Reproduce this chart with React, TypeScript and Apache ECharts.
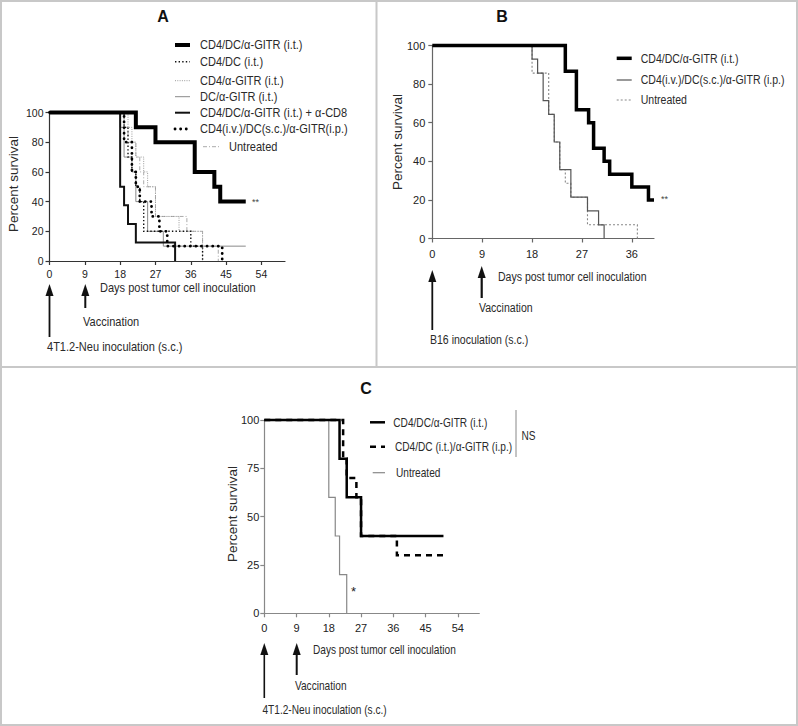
import React, { useEffect, useRef } from "react";
import * as echarts from "echarts";

const FONT = "'Liberation Sans', Arial, Helvetica, sans-serif";

// ---------- Data: survival events [day, percent after event]; end = last follow-up day ----------
// Panel A (4T1.2-Neu)
const aThickEvents = [[22, 90], [27, 80], [37, 60], [42, 50], [43.5, 40]];
const aThickEnd = 50;
const aCD4DCEvents = [[19, 90], [20, 70], [21, 60], [22, 50], [23, 40], [24, 20], [36, 10], [39, 0]];
const aCD4GitrEvents = [[20, 90], [21, 80], [22, 70], [24, 60], [25, 50], [27, 30], [33, 20], [39, 0]];
const aDCGitrEvents = [[18, 90], [19, 70], [21, 60], [22, 40], [25, 20], [29, 10]];
const aDCGitrEnd = 50;
const aCD8Events = [[18, 50], [19, 37.5], [20, 25], [22, 12.5], [32, 0]];
const aIvEvents = [[19, 80], [21, 60], [22, 50], [23, 40], [26, 30], [28, 20], [30, 10], [44, 0]];
const aUntreatedEvents = [[19, 90], [20, 80], [22, 70], [23, 60], [24, 50], [27, 30], [35, 20], [39, 10], [43, 0]];

// Panel B (B16)
const bThickEvents = [[24, 86.7], [26, 66.7], [28.2, 60], [29.1, 46.7], [31, 40], [32, 33.3], [36, 26.7], [39, 20]];
const bThickEnd = 40;
const bIvEvents = [[18, 92.9], [19, 85.7], [20, 71.4], [21, 64.3], [22, 50], [23, 35.7], [25, 21.4], [28, 14.3], [30, 7.1], [31, 0]];
const bUntreatedEvents = [[18, 85.7], [21, 64.3], [22, 50], [23, 35.7], [24, 28.6], [25, 21.4], [28, 7.1], [37, 0]];

// Panel C (4T1.2-Neu, route)
const cThickEvents = [[21, 80], [23, 60], [27, 40]];
const cThickEnd = 50;
const cDashedEvents = [[22, 80], [23, 70], [25.7, 60], [27, 40], [37, 30]];
const cDashedEnd = 50;
const cUntreatedEvents = [[18, 60], [19.8, 40], [21, 20], [23, 0]];

const xTicks = [0, 9, 18, 27, 36, 45, 54];
const xTicksB = [0, 9, 18, 27, 36];

const legendA = [
  "CD4/DC/\u03b1-GITR (i.t.)",
  "CD4/DC (i.t.)",
  "CD4/\u03b1-GITR (i.t.)",
  "DC/\u03b1-GITR (i.t.)",
  "CD4/DC/\u03b1-GITR (i.t.) + \u03b1-CD8",
  "CD4(i.v.)/DC(s.c.)/\u03b1-GITR(i.p.)",
  "Untreated",
];
const legendB = ["CD4/DC/\u03b1-GITR (i.t.)", "CD4(i.v.)/DC(s.c.)/\u03b1-GITR (i.p.)", "Untreated"];
const legendC = ["CD4/DC/\u03b1-GITR (i.t.)", "CD4/DC (i.t.)/\u03b1-GITR (i.p.)", "Untreated"];

function km(events: number[][], end: number | null): number[][] {
  const pts: number[][] = [[0, 100]];
  let cur = 100;
  for (const [d, p] of events) {
    pts.push([d, cur]);
    pts.push([d, p]);
    cur = p;
  }
  if (end !== null) pts.push([end, cur]);
  return pts;
}

function T(x: number, y: number, text: string, o: any = {}) {
  return {
    type: "text",
    x,
    y,
    scaleX: o.sx ?? 1,
    rotation: o.rot ?? 0,
    silent: true,
    style: {
      text,
      fontSize: o.fs ?? 11,
      fontFamily: FONT,
      fontWeight: o.fw ?? "normal",
      fill: o.c ?? "#2a2a2a",
      align: o.al ?? "left",
      verticalAlign: "middle",
    },
  };
}

function L(x1: number, y1: number, x2: number, y2: number, stroke: string, lineWidth: number, dash?: number[], cap?: string) {
  return {
    type: "line",
    silent: true,
    shape: { x1, y1, x2, y2 },
    style: { stroke, lineWidth, lineDash: dash, lineCap: cap ?? "butt" },
  };
}

function arrow(x: number, tip: number, end: number, w: number) {
  return [
    L(x, tip + 8, x, end, "#111", w),
    {
      type: "polygon",
      silent: true,
      shape: { points: [[x, tip], [x - 4, tip + 12], [x + 4, tip + 12]] },
      style: { fill: "#111" },
    },
  ];
}

function xAxisCfg(gridIndex: number, max: number, ticks: number[], color: string, fs: number, margin: number) {
  return {
    type: "value",
    gridIndex,
    min: 0,
    max,
    axisLine: { show: true, onZero: false, lineStyle: { color, width: 1.2 } },
    axisTick: { show: true, length: 4, customValues: ticks, lineStyle: { color, width: 1.2 } },
    axisLabel: { customValues: ticks, color: "#222", fontSize: fs, fontFamily: FONT, margin },
    splitLine: { show: false },
  };
}

function yAxisCfg(gridIndex: number, interval: number, color: string, fs: number, margin: number) {
  return {
    type: "value",
    gridIndex,
    min: 0,
    max: 100,
    interval,
    axisLine: { show: true, onZero: false, lineStyle: { color, width: 1.2 } },
    axisTick: { show: true, length: 4, lineStyle: { color, width: 1.2 } },
    axisLabel: { color: "#222", fontSize: fs, fontFamily: FONT, margin },
    splitLine: { show: false },
  };
}

function S(name: string, idx: number, data: number[][], ls: any, z = 2) {
  return {
    name,
    type: "line",
    xAxisIndex: idx,
    yAxisIndex: idx,
    data,
    symbol: "none",
    showSymbol: false,
    clip: false,
    z,
    lineStyle: { join: "miter", ...ls },
  };
}

// line styles
const stA = [
  { color: "#000", width: 4 },
  { color: "#111", width: 1.4, type: [1.4, 2.2] },
  { color: "#9a9a9a", width: 1, type: [1, 1.3] },
  { color: "#8a8a8a", width: 1 },
  { color: "#111", width: 2 },
  { color: "#000", width: 2.8, type: [0.1, 5.5], cap: "round" },
  { color: "#aaa", width: 1, type: [4, 2, 1, 2] },
];
const stB = [
  { color: "#000", width: 3.5 },
  { color: "#555", width: 1.2 },
  { color: "#888", width: 1.1, type: [2, 2] },
];
const stC = [
  { color: "#000", width: 2.5 },
  { color: "#000", width: 2.5, type: [6, 5] },
  { color: "#888", width: 1.2 },
];

export default function App() {
  const ref = useRef<HTMLDivElement>(null);
  useEffect(() => {
    if (!ref.current) return;
    const chart = echarts.init(ref.current, undefined, { renderer: "svg" });

    const series = [
      S(legendA[6], 0, km(aUntreatedEvents, null), stA[6]),
      S(legendA[2], 0, km(aCD4GitrEvents, null), stA[2]),
      S(legendA[3], 0, km(aDCGitrEvents, aDCGitrEnd), stA[3]),
      S(legendA[1], 0, km(aCD4DCEvents, null), stA[1], 3),
      S(legendA[4], 0, km(aCD8Events, null), stA[4], 3),
      S(legendA[5], 0, km(aIvEvents, null), stA[5], 4),
      S(legendA[0], 0, km(aThickEvents, aThickEnd), stA[0], 5),

      S("B " + legendB[2], 1, km(bUntreatedEvents, null), stB[2]),
      S("B " + legendB[1], 1, km(bIvEvents, null), stB[1], 3),
      S("B " + legendB[0], 1, km(bThickEvents, bThickEnd), stB[0], 5),

      S("C " + legendC[2], 2, km(cUntreatedEvents, null), stC[2]),
      S("C " + legendC[1], 2, km(cDashedEvents, cDashedEnd), stC[1], 3),
      S("C " + legendC[0], 2, km(cThickEvents, cThickEnd), stC[0], 4),
    ];

    const border = "#c8c8c8";
    const elements: any[] = [
      { type: "rect", silent: true, shape: { x: 1, y: 1, width: 796, height: 724 }, style: { fill: "none", stroke: border, lineWidth: 2 } },
      L(376.5, 1, 376.5, 367, border, 2),
      L(1, 367, 797, 367, border, 2),

      // Titles
      T(163, 16, "A", { fs: 16, fw: "bold", c: "#111", al: "center" }),
      T(502, 16, "B", { fs: 16, fw: "bold", c: "#111", al: "center" }),
      T(366, 388, "C", { fs: 16, fw: "bold", c: "#111", al: "center" }),

      // Axis titles
      T(13, 184, "Percent survival", { fs: 13.5, rot: Math.PI / 2, al: "center" }),
      T(100, 288, "Days post tumor cell inoculation", { fs: 12, sx: 0.92 }),
      T(397, 142, "Percent survival", { fs: 13.5, rot: Math.PI / 2, al: "center" }),
      T(498, 277, "Days post tumor cell inoculation", { fs: 13.5, sx: 0.78 }),
      T(232, 514, "Percent survival", { fs: 13.5, rot: Math.PI / 2, al: "center" }),
      T(313, 650, "Days post tumor cell inoculation", { fs: 12.5, sx: 0.81 }),

      // Significance
      T(252, 202, "**", { fs: 9, c: "#444" }),
      T(661, 199, "**", { fs: 9, c: "#444" }),
      T(351, 591, "*", { fs: 13, c: "#222" }),

      // Arrows & annotations A
      ...arrow(49.5, 284, 337, 1.8),
      ...arrow(85.3, 284, 308, 2),
      T(83, 322, "Vaccination", { fs: 12, sx: 0.92 }),
      T(47, 347, "4T1.2-Neu inoculation (s.c.)", { fs: 12, sx: 0.92 }),

      // Arrows & annotations B
      ...arrow(432.3, 270, 330, 1.8),
      ...arrow(481.7, 266, 298, 2.2),
      T(479, 308, "Vaccination", { fs: 13.5, sx: 0.78 }),
      T(430, 340, "B16 inoculation (s.c.)", { fs: 13.5, sx: 0.78 }),

      // Arrows & annotations C
      ...arrow(264.3, 643, 698, 1.6),
      ...arrow(296.7, 643, 675, 2),
      T(295, 686, "Vaccination", { fs: 12.5, sx: 0.81 }),
      T(262.5, 710, "4T1.2-Neu inoculation (s.c.)", { fs: 12.5, sx: 0.81 }),

      // NS bracket
      L(516, 410, 516, 457, "#888", 1),
      T(521.5, 436, "NS", { fs: 12.5, sx: 0.81 }),
    ];

    // Legend A
    const rowsA = [45, 61.7, 80.7, 96.7, 112.7, 129, 146.7];
    legendA.forEach((name, i) => {
      const s: any = stA[i];
      const x1 = i === 6 ? 203 : 175;
      const x2 = i === 6 ? 220 : 190;
      const tx = i === 6 ? 229 : 200;
      elements.push(L(x1, rowsA[i], x2, rowsA[i], s.color, s.width, s.type, s.cap));
      elements.push(T(tx, rowsA[i], name, { fs: 12, sx: 0.92 }));
    });
    // Legend B
    const rowsB = [58.3, 80, 100];
    legendB.forEach((name, i) => {
      const s: any = stB[i];
      elements.push(L(616.7, rowsB[i], 631.7, rowsB[i], s.color, s.width, s.type));
      elements.push(T(640.7, rowsB[i], name, { fs: 13.5, sx: 0.78 }));
    });
    // Legend C
    const rowsC = [422.3, 446.7, 472.7];
    const txC = [393.3, 395, 396];
    legendC.forEach((name, i) => {
      const s: any = stC[i];
      elements.push(L(i === 2 ? 372.7 : 370, rowsC[i], 385, rowsC[i], s.color, s.width, s.type));
      elements.push(T(txC[i], rowsC[i], name, { fs: 12.5, sx: 0.81 }));
    });

    chart.setOption({
      animation: false,
      backgroundColor: "#ffffff",
      textStyle: { fontFamily: FONT },
      grid: [
        { left: 49.5, top: 112.5, width: 235.5, height: 148.5, outerBoundsMode: "none" },
        { left: 432.3, top: 45.5, width: 221.7, height: 193, outerBoundsMode: "none" },
        { left: 264.3, top: 420, width: 215, height: 193.3, outerBoundsMode: "none" },
      ],
      xAxis: [
        xAxisCfg(0, 60, xTicks, "#333", 10.5, 7),
        xAxisCfg(1, 40, xTicksB, "#666", 11, 10),
        xAxisCfg(2, 60, xTicks, "#888", 11, 9),
      ],
      yAxis: [
        yAxisCfg(0, 20, "#333", 10.5, 6),
        yAxisCfg(1, 20, "#666", 11, 7),
        yAxisCfg(2, 25, "#888", 11, 5),
      ],
      series,
      graphic: { elements },
    });

    return () => chart.dispose();
  }, []);

  return (
    <div
      ref={ref}
      style={{ position: "absolute", left: 0, top: 0, width: 798, height: 726, background: "#fff" }}
    />
  );
}
